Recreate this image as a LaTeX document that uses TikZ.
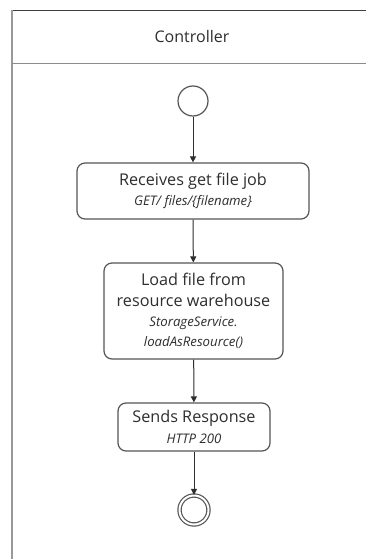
\documentclass[tikz,border=0pt]{standalone}
\usepackage{fontspec}
\setmainfont{Open Sans}
\usetikzlibrary{arrows.meta}
\definecolor{ink}{HTML}{2E2E2E}
\definecolor{edge}{HTML}{555555}
\tikzset{
  action/.style={draw=edge, line width=1.2pt, rounded corners=8pt, align=center,
    text=ink, inner sep=0pt, font=\fontsize{16.2}{20.3}\selectfont},
  flow/.style={draw=ink, line width=1pt, -{Triangle[length=6pt,width=6pt]}},
  startnode/.style={circle, draw=edge, line width=1.2pt, minimum size=30pt, inner sep=0pt},
  endnode/.style={circle, draw=edge, line width=1.2pt, minimum size=29pt, inner sep=0pt,
    double=white, double distance=2pt},
}
\newcommand{\sub}[1]{{\fontsize{13.2}{20.3}\selectfont\itshape #1}}
\begin{document}
\begin{tikzpicture}[x=1pt,y=-1pt]
  \useasboundingbox[fill=white] (0,0) rectangle (366,559);
  % swimlane frame
  \draw[color=black!75, line width=1.8pt] (12,10.5) -- (366,10.5);
  \draw[color=black!40, line width=1.8pt] (12,10) -- (12,559);
  \draw[color=black!45, line width=1.4pt] (12,63.5) -- (366,63.5);
  \node[text=ink, font=\fontsize{16}{18}\selectfont] (lane) at (192,37) {Controller};

  % nodes
  \node[startnode] (start) at (193,101) {};
  \node[action, minimum width=232pt, minimum height=56pt] (recv) at (193,191)
    {Receives get file job\\\sub{GET/ files/\{filename\}}};
  \node[action, minimum width=179pt, minimum height=96pt] (load) at (193.5,311)
    {Load file from\\resource warehouse\\
     \sub{StorageService.}\\\sub{loadAsResource()}};
  \node[action, minimum width=152pt, minimum height=48pt] (resp) at (194,427)
    {Sends Response\\\sub{HTTP 200}};
  \node[endnode] (stop) at (194,510) {};

  % control flow
  \draw[flow] (start) -- (recv);
  \draw[flow] (recv) -- (load);
  \draw[flow] (load) -- (resp);
  \draw[flow] (resp) -- (stop);
\end{tikzpicture}
\end{document}
